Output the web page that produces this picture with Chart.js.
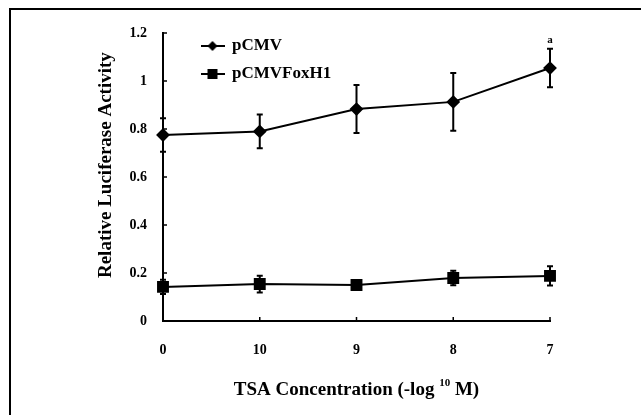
<!DOCTYPE html>
<html>
<head>
<meta charset="utf-8">
<script src="https://cdn.jsdelivr.net/npm/chart.js@4/dist/chart.umd.min.js"></script>
<style>
  html, body { margin: 0; padding: 0; background: #fff; overflow: hidden; }
  #wrap { position: relative; width: 641px; height: 415px; }
  #frame { position: absolute; left: 9px; top: 8px; width: 700px; height: 500px; border: 2px solid #000; box-sizing: border-box; }
  canvas { position: absolute; left: 0; top: 0; }
</style>
</head>
<body>
<div id="wrap">
  <div id="frame"></div>
  <canvas id="c" width="641" height="415"></canvas>
</div>
<script>
// ---- data ----
const categories = ['0', '10', '9', '8', '7'];
const pCMV = [0.775, 0.79, 0.883, 0.913, 1.054];
const pCMVErr = [0.07, 0.07, 0.10, 0.12, 0.08];
const pCMVFoxH1 = [0.142, 0.154, 0.15, 0.179, 0.188];
const pCMVFoxH1Err = [0.03, 0.035, 0.01, 0.03, 0.04];
const pCMVMarks = ['', '', '', '', 'a'];
const yTicks = [0, 0.2, 0.4, 0.6, 0.8, 1, 1.2];
const seriesNames = ['pCMV', 'pCMVFoxH1'];
// x-axis title in parts: main text, superscript, rest
const xTitleParts = ['TSA Concentration (-log ', '10', ' M)'];
const yTitle = '\u2002\u2002 Relative Luciferase Activity';

const FONT = 'Liberation Serif, Times New Roman, serif';

function legendIcon(style) {
  const cv = document.createElement('canvas');
  cv.width = 24; cv.height = 14;
  const g = cv.getContext('2d');
  g.strokeStyle = '#000'; g.fillStyle = '#000'; g.lineWidth = 2;
  g.beginPath(); g.moveTo(0, 7); g.lineTo(24, 7); g.stroke();
  g.beginPath();
  if (style === 'diamond') {
    g.moveTo(12, 2); g.lineTo(17, 7); g.lineTo(12, 12); g.lineTo(7, 7); g.closePath();
  } else {
    g.rect(7, 2, 10, 10);
  }
  g.fill();
  return cv;
}
const icons = [legendIcon('diamond'), legendIcon('square')];

const errorBars = {
  id: 'errorBars',
  afterDatasetsDraw(chart) {
    const ctx = chart.ctx;
    const xs = chart.scales.x, ys = chart.scales.y;
    const errs = [pCMVErr, pCMVFoxH1Err];
    const vals = [pCMV, pCMVFoxH1];
    ctx.save();
    ctx.strokeStyle = '#000';
    ctx.lineWidth = 2;
    vals.forEach((arr, d) => {
      arr.forEach((v, i) => {
        const x = xs.getPixelForValue(i);
        const yt = ys.getPixelForValue(v + errs[d][i]);
        const yb = ys.getPixelForValue(v - errs[d][i]);
        ctx.beginPath();
        ctx.moveTo(x, yt); ctx.lineTo(x, yb);
        ctx.moveTo(x - 3, yt); ctx.lineTo(x + 3, yt);
        ctx.moveTo(x - 3, yb); ctx.lineTo(x + 3, yb);
        ctx.stroke();
      });
    });
    // significance marks
    ctx.fillStyle = '#000';
    ctx.font = 'bold 11px ' + FONT;
    ctx.textAlign = 'center';
    ctx.textBaseline = 'bottom';
    pCMVMarks.forEach((m, i) => {
      if (!m) return;
      const x = xs.getPixelForValue(i);
      const y = ys.getPixelForValue(pCMV[i] + pCMVErr[i]);
      ctx.fillText(m, x, y - 3);
    });
    ctx.restore();
  }
};

const innerTicks = {
  id: 'innerTicks',
  afterDraw(chart) {
    const ctx = chart.ctx;
    const xs = chart.scales.x, ys = chart.scales.y;
    ctx.save();
    ctx.strokeStyle = '#000';
    ctx.lineWidth = 1.5;
    ctx.beginPath();
    ys.ticks.forEach((t) => {
      const y = ys.getPixelForValue(t.value);
      ctx.moveTo(xs.left, y); ctx.lineTo(xs.left + 4, y);
    });
    xs.ticks.forEach((t, i) => {
      const x = xs.getPixelForValue(i);
      ctx.moveTo(x, ys.bottom); ctx.lineTo(x, ys.bottom - 4);
    });
    ctx.stroke();

    // x-axis title with superscript
    const mainFont = 'bold 19px ' + FONT;
    const supFont = 'bold 11px ' + FONT;
    ctx.fillStyle = '#000';
    ctx.textBaseline = 'middle';
    ctx.textAlign = 'left';
    ctx.font = mainFont; const w0 = ctx.measureText(xTitleParts[0]).width;
    ctx.font = supFont; const w1 = ctx.measureText(xTitleParts[1]).width;
    ctx.font = mainFont; const w2 = ctx.measureText(xTitleParts[2]).width;
    const total = w0 + w1 + w2;
    let x = (xs.left + xs.right) / 2 - total / 2;
    const y = xs.bottom - 25;
    ctx.font = mainFont; ctx.fillText(xTitleParts[0], x, y); x += w0;
    ctx.font = supFont; ctx.fillText(xTitleParts[1], x, y - 7); x += w1;
    ctx.font = mainFont; ctx.fillText(xTitleParts[2], x, y);
    ctx.restore();
  }
};

const placeLegend = {
  id: 'placeLegend',
  afterLayout(chart) {
    const lg = chart.legend;
    if (!lg) return;
    const w = lg.width, h = lg.height;
    lg.left = 190.5; lg.right = lg.left + w;
    lg.top = 26.5; lg.bottom = lg.top + h;
  }
};

new Chart(document.getElementById('c'), {
  type: 'line',
  data: {
    labels: categories,
    datasets: [
      {
        label: seriesNames[0], data: pCMV,
        borderColor: '#000', backgroundColor: '#000', borderWidth: 2,
        pointStyle: 'rectRot', pointRadius: 5.5, pointBackgroundColor: '#000', pointBorderColor: '#000',
        tension: 0
      },
      {
        label: seriesNames[1], data: pCMVFoxH1,
        borderColor: '#000', backgroundColor: '#000', borderWidth: 2,
        pointStyle: 'rect', pointRadius: 7, pointBackgroundColor: '#000', pointBorderColor: '#000',
        tension: 0
      }
    ]
  },
  options: {
    responsive: false,
    animation: false,
    layout: { padding: { left: 0, right: 91, top: 33, bottom: 0 } },
    plugins: {
      legend: {
        position: 'chartArea',
        align: 'start',
        labels: {
          usePointStyle: true,
          pointStyleWidth: 22,
          padding: 11,
          color: '#000',
          font: { family: FONT, size: 17, weight: 'bold' },
          generateLabels: (chart) => chart.data.datasets.map((ds, i) => ({
            text: ds.label, pointStyle: icons[i], fillStyle: '#000', strokeStyle: '#000',
            lineWidth: 0, datasetIndex: i, hidden: false
          }))
        }
      },
      tooltip: { enabled: false }
    },
    scales: {
      x: {
        type: 'category',
        offset: false,
        grid: { display: false, drawTicks: false },
        border: { display: true, color: '#000', width: 2 },
        ticks: { color: '#000', padding: 21, font: { family: FONT, size: 14, weight: 'bold' }, maxRotation: 0 },
        title: { display: false },
        afterFit(scale) { scale.height = 94; }
      },
      y: {
        min: 0, max: 1.2,
        grid: { display: false, drawTicks: false },
        border: { display: true, color: '#000', width: 2 },
        afterBuildTicks(scale) { scale.ticks = yTicks.map(v => ({ value: v })); },
        ticks: { color: '#000', padding: 16, font: { family: FONT, size: 14, weight: 'bold' }, callback: (v) => String(v) },
        title: { display: true, text: yTitle, color: '#000', font: { family: FONT, size: 19, weight: 'bold' }, padding: { top: 95, bottom: 0 } },
        afterFit(scale) { scale.width = 163; }
      }
    }
  },
  plugins: [errorBars, innerTicks, placeLegend]
});
</script>
</body>
</html>
